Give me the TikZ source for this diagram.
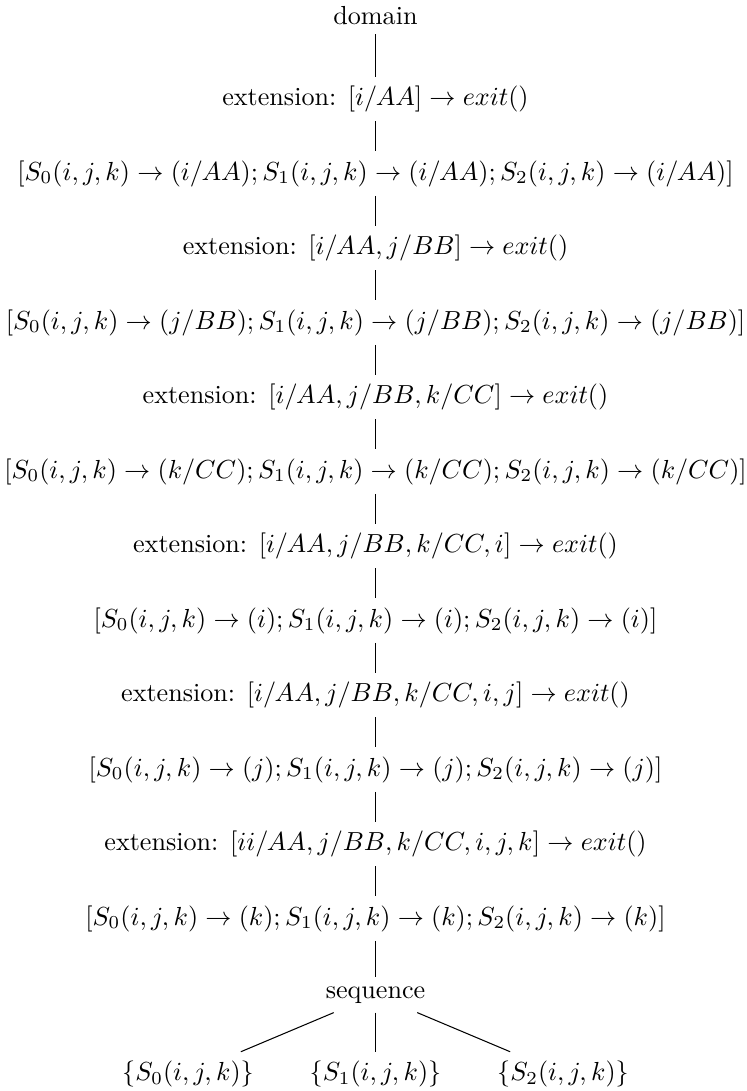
\documentclass[tikz,border=0pt]{standalone}
\usepackage{tikz}
\usetikzlibrary{positioning}

\begin{document}
\begin{tikzpicture}[x=0.383pt, y=-0.383pt,
    treenode/.style={inner sep=3.33pt},
    edge/.style={draw, line width=0.4pt}]
    \useasboundingbox (0,0) rectangle (746,1091);

    % Root and extension chain
    \node[treenode] (domain) at (375.5, 16) {domain};
    \node[treenode] (ext1) at (375.5, 99) {extension: $[i/AA] \rightarrow exit()$};
    \node[treenode] (row1) at (375.5, 173.5) {$[S_0(i,j,k) \rightarrow (i/AA); S_1(i,j,k) \rightarrow (i/AA); S_2(i,j,k) \rightarrow (i/AA)]$};
    \node[treenode] (ext2) at (375.5, 248) {extension: $[i/AA, j/BB] \rightarrow exit()$};
    \node[treenode] (row2) at (375.5, 322.5) {$[S_0(i,j,k) \rightarrow (j/BB); S_1(i,j,k) \rightarrow (j/BB); S_2(i,j,k) \rightarrow (j/BB)]$};
    \node[treenode] (ext3) at (375.5, 397) {extension: $[i/AA, j/BB, k/CC] \rightarrow exit()$};
    \node[treenode] (row3) at (375.5, 471.5) {$[S_0(i,j,k) \rightarrow (k/CC); S_1(i,j,k) \rightarrow (k/CC); S_2(i,j,k) \rightarrow (k/CC)]$};
    \node[treenode] (ext4) at (375.5, 546) {extension: $[i/AA, j/BB, k/CC, i] \rightarrow exit()$};
    \node[treenode] (row4) at (375.5, 620.5) {$[S_0(i,j,k) \rightarrow (i); S_1(i,j,k) \rightarrow (i); S_2(i,j,k) \rightarrow (i)]$};
    \node[treenode] (ext5) at (375.5, 695) {extension: $[i/AA, j/BB, k/CC, i, j] \rightarrow exit()$};
    \node[treenode] (row5) at (375.5, 769.5) {$[S_0(i,j,k) \rightarrow (j); S_1(i,j,k) \rightarrow (j); S_2(i,j,k) \rightarrow (j)]$};
    \node[treenode] (ext6) at (375.5, 844) {extension: $[ii/AA, j/BB, k/CC, i, j, k] \rightarrow exit()$};
    \node[treenode] (row6) at (375.5, 918.5) {$[S_0(i,j,k) \rightarrow (k); S_1(i,j,k) \rightarrow (k); S_2(i,j,k) \rightarrow (k)]$};
    \node[treenode] (seq) at (375.5, 995) {sequence};

    % Leaves
    \node[treenode] (leaf0) at (188, 1074) {$\{S_0(i,j,k)\}$};
    \node[treenode] (leaf1) at (375.5, 1074) {$\{S_1(i,j,k)\}$};
    \node[treenode] (leaf2) at (563, 1074) {$\{S_2(i,j,k)\}$};

    % Edges
    \draw[edge] (domain) -- (ext1);
    \draw[edge] (ext1) -- (row1);
    \draw[edge] (row1) -- (ext2);
    \draw[edge] (ext2) -- (row2);
    \draw[edge] (row2) -- (ext3);
    \draw[edge] (ext3) -- (row3);
    \draw[edge] (row3) -- (ext4);
    \draw[edge] (ext4) -- (row4);
    \draw[edge] (row4) -- (ext5);
    \draw[edge] (ext5) -- (row5);
    \draw[edge] (row5) -- (ext6);
    \draw[edge] (ext6) -- (row6);
    \draw[edge] (row6) -- (seq);
    \draw[edge] (seq) -- (leaf0);
    \draw[edge] (seq) -- (leaf1);
    \draw[edge] (seq) -- (leaf2);
\end{tikzpicture}
\end{document}
